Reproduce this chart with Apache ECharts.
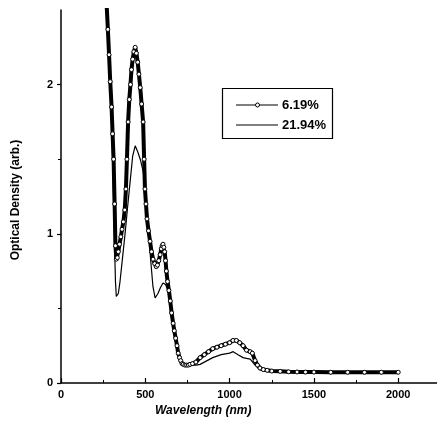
<!DOCTYPE html>
<html>
<head>
<meta charset="utf-8">
<script src="https://cdn.jsdelivr.net/npm/echarts@6/dist/echarts.min.js"></script>
<style>html,body{margin:0;padding:0;background:#fff}#c{width:437px;height:437px}</style>
</head>
<body>
<div id="c"></div>
<script>
var seriesNames = ['6.19%', '21.94%'];
var xTicks = [0, 500, 1000, 1500, 2000];
var yTicks = [0, 1, 2];
var wl619 = [262,270,278,285,292,300,306,312,318,323,328,334,340,347,355,362,370,378,385,391,398,405,412,418,425,432,440,447,455,462,470,478,487,493,498,504,510,519,528,537,546,556,565,572,580,588,595,600,605,610,615,620,625,632,640,648,656,665,672,680,688,695,703,710,718,725,735,745,755,765,780,800,825,850,875,900,925,950,975,1000,1020,1040,1060,1080,1100,1122,1135,1151,1165,1180,1200,1223,1250,1300,1350,1400,1450,1500,1600,1700,1800,1900,2000];
var od619 = [2.75,2.55,2.37,2.2,2.02,1.85,1.67,1.5,1.2,0.92,0.83,0.84,0.88,0.93,0.98,1.03,1.08,1.16,1.3,1.5,1.75,1.9,2.0,2.1,2.17,2.22,2.25,2.21,2.15,2.07,1.98,1.87,1.75,1.5,1.3,1.2,1.1,1.02,0.95,0.88,0.83,0.8,0.78,0.79,0.82,0.86,0.9,0.92,0.93,0.91,0.88,0.82,0.75,0.68,0.62,0.55,0.47,0.4,0.35,0.3,0.25,0.2,0.17,0.15,0.13,0.125,0.12,0.12,0.12,0.125,0.13,0.14,0.17,0.19,0.21,0.23,0.24,0.25,0.26,0.27,0.285,0.285,0.27,0.25,0.22,0.21,0.2,0.15,0.12,0.1,0.09,0.085,0.08,0.078,0.075,0.074,0.073,0.073,0.072,0.072,0.072,0.072,0.072];
var wl2194 = [262,270,278,285,292,300,306,312,318,323,328,334,340,350,365,380,395,410,425,440,455,470,487,500,516,530,545,558,575,590,605,620,635,650,665,680,695,710,725,745,765,800,825,850,900,950,1000,1021,1050,1080,1100,1122,1151,1180,1223,1250,1300,1400,1500,1600,1800,2000];
var od2194 = [2.75,2.55,2.37,2.2,2.0,1.75,1.5,1.2,0.9,0.68,0.58,0.58,0.6,0.68,0.84,1.0,1.18,1.35,1.52,1.59,1.55,1.5,1.42,1.3,1.1,0.85,0.65,0.57,0.6,0.64,0.67,0.66,0.62,0.52,0.4,0.3,0.2,0.15,0.13,0.12,0.12,0.12,0.125,0.14,0.17,0.19,0.2,0.21,0.19,0.17,0.165,0.16,0.12,0.1,0.09,0.085,0.078,0.074,0.073,0.072,0.072,0.072];

function zip(a, b) { return a.map(function (v, i) { return [v, b[i]]; }); }

var chart = echarts.init(document.getElementById('c'), null, {renderer: 'canvas'});
var font = '"Liberation Sans", Arial, sans-serif';
chart.setOption({
  animation: false,
  backgroundColor: '#fff',
  grid: {left: 61, right: 0, top: 10, bottom: 54, containLabel: false},
  xAxis: {
    type: 'value', min: 0, max: 2230, interval: 500,
    axisLine: {show: true, onZero: false, lineStyle: {color: '#000', width: 1.5}},
    axisTick: {show: true, inside: true, length: 5, lineStyle: {color: '#000', width: 1.2},
      customValues: xTicks},
    minorTick: {show: true, splitNumber: 2, length: 3, lineStyle: {color: '#000'}},
    splitLine: {show: false},
    axisLabel: {customValues: xTicks, formatter: function (v) { return String(v); },
      color: '#000', fontFamily: font, fontWeight: 'bold', fontSize: 11, margin: 6}
  },
  yAxis: {
    type: 'value', min: 0, max: 2.5, interval: 1,
    axisLine: {show: true, onZero: false, lineStyle: {color: '#000', width: 1.5}},
    axisTick: {show: true, inside: false, length: 4, lineStyle: {color: '#000', width: 1.2}, customValues: yTicks},
    minorTick: {show: true, splitNumber: 2, length: 3, lineStyle: {color: '#000'}},
    splitLine: {show: false},
    axisLabel: {customValues: yTicks, formatter: function (v) { return String(v); },
      color: '#000', fontFamily: font, fontWeight: 'bold', fontSize: 11, margin: 8}
  },
  graphic: [
    {type: 'text', left: 155, top: 405, style: {text: 'Wavelength (nm)', fill: '#000', font: 'italic bold 12px ' + font}},
    {type: 'text', x: 16, y: 200, rotation: Math.PI / 2, style: {text: 'Optical Density (arb.)', fill: '#000', font: 'bold 12px ' + font, align: 'center', verticalAlign: 'middle'}},
    {type: 'group', x: 222, y: 88, children: [
      {type: 'rect', shape: {x: 0.5, y: 0.5, width: 110, height: 50}, style: {fill: '#fff', stroke: '#000', lineWidth: 1.2}},
      {type: 'line', shape: {x1: 14, y1: 17, x2: 56, y2: 17}, style: {stroke: '#000', lineWidth: 1.2}},
      {type: 'circle', shape: {cx: 35.5, cy: 17, r: 2}, style: {fill: '#fff', stroke: '#000', lineWidth: 1}},
      {type: 'text', x: 60, y: 17, style: {text: seriesNames[0], fill: '#000', font: 'bold 13px ' + font, verticalAlign: 'middle'}},
      {type: 'line', shape: {x1: 14, y1: 37, x2: 56, y2: 37}, style: {stroke: '#000', lineWidth: 1.2}},
      {type: 'text', x: 60, y: 37, style: {text: seriesNames[1], fill: '#000', font: 'bold 13px ' + font, verticalAlign: 'middle'}}
    ]}
  ],
  series: [
    {
      name: seriesNames[0], type: 'line', data: zip(wl619, od619), clip: true,
      symbol: 'circle', symbolSize: 4, showSymbol: true, showAllSymbol: true,
      lineStyle: {color: '#000', width: 4},
      itemStyle: {color: '#fff', borderColor: '#000', borderWidth: 1},
      z: 3
    },
    {
      name: seriesNames[1], type: 'line', data: zip(wl2194, od2194), clip: true,
      symbol: 'none', showSymbol: false,
      lineStyle: {color: '#000', width: 1.2},
      itemStyle: {color: '#000'},
      z: 2
    }
  ]
});
</script>
</body>
</html>
